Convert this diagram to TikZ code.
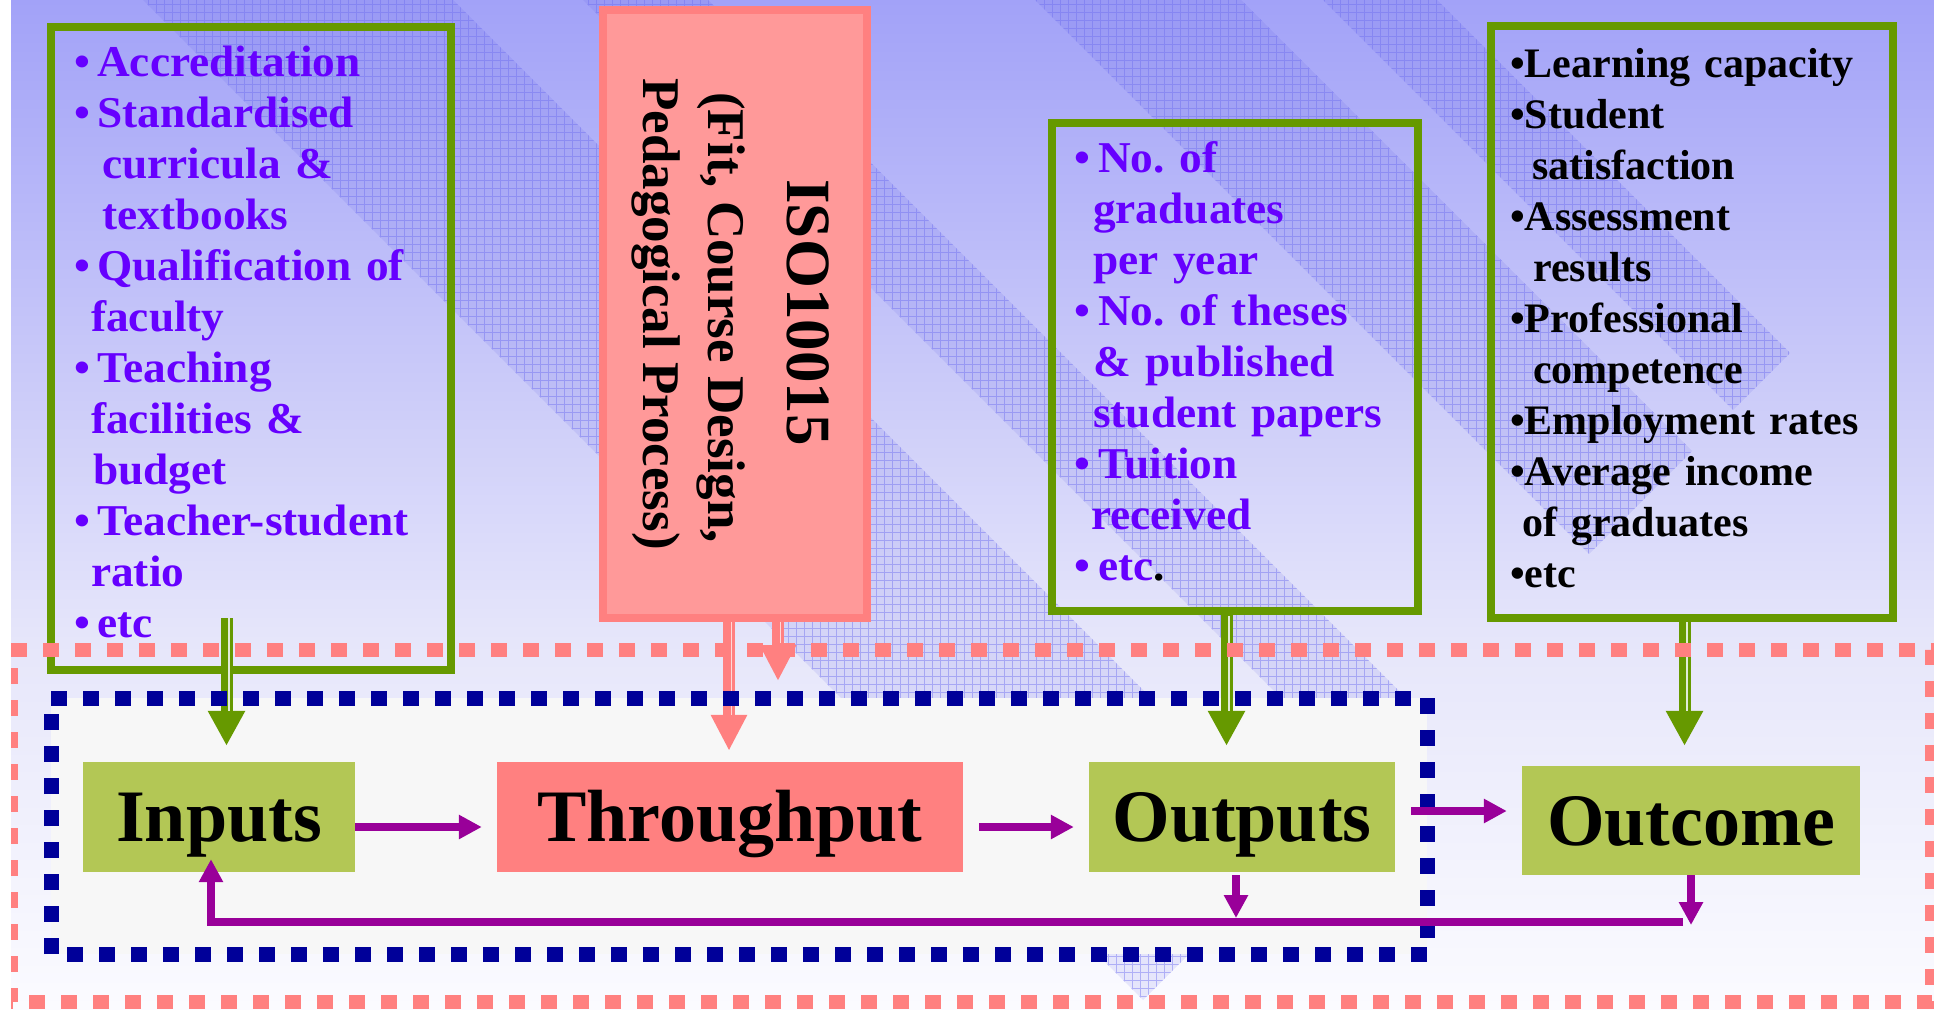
\documentclass[tikz,border=0pt]{standalone}
\usepackage{fontspec}
\setmainfont{Liberation Serif}
\newfontfamily\listfont{Liberation Serif}[FakeStretch=1.03]
\usetikzlibrary{arrows.meta,calc}

\definecolor{gborder}{RGB}{102,153,0}
\definecolor{gfill}{RGB}{179,199,85}
\definecolor{ptext}{RGB}{102,0,255}
\definecolor{parr}{RGB}{153,0,153}
\definecolor{navy}{RGB}{0,0,153}
\definecolor{pinkc}{RGB}{255,128,128}
\definecolor{isofill}{RGB}{255,153,153}
\definecolor{bgtop}{RGB}{162,162,248}
\definecolor{bgmid}{RGB}{230,230,250}
\definecolor{bgbot}{RGB}{251,251,255}
\definecolor{bandc}{RGB}{90,90,230}
\definecolor{gridc}{RGB}{110,110,240}
\definecolor{innerc}{RGB}{247,247,247}
\definecolor{ggap}{RGB}{225,235,215}
\definecolor{pgap}{RGB}{255,215,215}

\newcommand\bu{\makebox[23pt][l]{\textbullet}}
\newcommand\bum{\makebox[24pt][l]{\textbullet}}

\begin{document}
\frenchspacing
\begin{tikzpicture}[x=1pt,y=-1pt,
  greenbox/.style={draw=gborder,line width=8pt,inner sep=0pt},
  isoframe/.style={draw=pinkc,fill=isofill,line width=8pt,inner sep=0pt},
  mainbox/.style={inner sep=0pt,minimum height=110pt,font=\fontsize{74pt}{80pt}\selectfont\bfseries,text height=49pt,text depth=0pt},
  listtext/.style={anchor=base west,inner sep=0pt,text width=420pt,align=left},
  purplelist/.style={listtext,text=ptext,font=\listfont\fontsize{44pt}{51pt}\selectfont\bfseries\frenchspacing},
  blacklist/.style={listtext,text=black,font=\fontsize{42pt}{51pt}\selectfont\bfseries\frenchspacing},
  isotext/.style={rotate=-90,anchor=base,inner sep=0pt},
  gshaft/.style={draw=gborder,line width=12pt,-{Triangle[length=35pt,width=35pt]}},
  ggapline/.style={draw=ggap,line width=1.8pt},
  pshaft/.style={draw=pinkc,line width=12pt,-{Triangle[length=36pt,width=34pt]}},
  pgapline/.style={draw=pgap,line width=1.8pt},
  parrow/.style={draw=parr,line width=7.5pt,-{Triangle[length=23pt,width=23pt]}},
  dashframe/.style={line width=15pt,dash pattern=on 16pt off 16pt},
]
\useasboundingbox (0,0) rectangle (1934,1009);
% background
\fill[white] (0,0) rectangle (1934,1009);
\shade[top color=bgtop,bottom color=bgmid] (10.5,0) rectangle (1934,641);
\shade[top color=bgmid,bottom color=bgbot] (10.5,640) rectangle (1934,1009);
% diagonal grid bands
\begin{scope}
\clip (143,0) -- (453,0) -- (1298,845) -- (1143,1000) -- cycle
      (583,0) -- (708,0) -- (1425.5,717.5) -- (1363,780) -- cycle
      (1035,0) -- (1241,0) -- (1692,451) -- (1589,554) -- cycle
      (1323,0) -- (1437,0) -- (1790,353) -- (1733,410) -- cycle;
\fill[bandc,fill opacity=0.12] (0,0) rectangle (1934,1009);
\draw[gridc,draw opacity=0.45,line width=0.7pt]
  \foreach \i in {4,12,...,1934} { (\i,0) -- (\i,1009) }
  \foreach \j in {4,12,...,1009} { (0,\j) -- (1934,\j) };
\end{scope}
% inner area of the blue frame
\fill[innerc] (51,698) rectangle (1427,954);

% upper boxes
\node[greenbox,minimum width=400pt,minimum height=643pt] (inbox) at (251,348.5) {};
\node[greenbox,minimum width=366pt,minimum height=488pt] (midbox) at (1235,367) {};
\node[greenbox,minimum width=402pt,minimum height=592pt] (outbox) at (1692,322) {};
\node[isoframe,minimum width=264pt,minimum height=608pt] (iso) at (735,314) {};

\node[isotext,font=\fontsize{63pt}{70pt}\selectfont\bfseries] (iso1) at (787,312.5) {ISO10015};
\node[isotext,font=\fontsize{53pt}{60pt}\selectfont\bfseries] (iso2) at (708,317.5) {(Fit, Course Design,};
\node[isotext,font=\fontsize{53pt}{60pt}\selectfont\bfseries] (iso3) at (643,314) {Pedagogical Process)};

\node[purplelist] (inlist) at (74,76) {\bu Accreditation\\
\bu Standardised\\
\hspace*{28pt}curricula \&\\
\hspace*{28pt}textbooks\\
\bu Qualification of\\
\hspace*{17pt}faculty\\
\bu Teaching\\
\hspace*{17pt}facilities \&\\
\hspace*{19pt}budget\\
\bu Teacher-student\\
\hspace*{17pt}ratio\\
\bu etc};

\node[purplelist] (midlist) at (1074,172) {\bum No. of\\
\hspace*{19pt}graduates\\
\hspace*{19pt}per year\\
\bum No. of theses\\
\hspace*{19pt}\& published\\
\hspace*{19pt}student papers\\
\bum Tuition\\
\hspace*{17pt}received\\
\bum etc{\color{black}.}};

\node[blacklist] (outlist) at (1510,77.6) {\textbullet Learning capacity\\
\textbullet Student\\
\hspace*{22pt}satisfaction\\
\textbullet Assessment\\
\hspace*{23pt}results\\
\textbullet Professional\\
\hspace*{23pt}competence\\
\textbullet Employment rates\\
\textbullet Average income\\
\hspace*{12pt}of graduates\\
\textbullet etc};

% anchor points for the down arrows
\coordinate (ga) at (226.5,618);
\coordinate (gb) at (1226.5,0);
\coordinate (gc) at (1684.5,0);
\coordinate (pa) at (729,0);
\coordinate (pbT) at (778,681);

% main nodes
\node[mainbox,fill=gfill,minimum width=272pt] (inputs) at (219,817) {Inputs};
\node[mainbox,fill=pinkc,minimum width=466pt] (throughput) at (730,817) {Throughput};
\node[mainbox,fill=gfill,minimum width=306pt] (outputs) at (1242,817) {Outputs};
\node[mainbox,fill=gfill,minimum width=338pt,minimum height=109pt] (outcome) at (1691,820.5) {Outcome};

\draw[gshaft,shorten >=16pt] (ga) -- (ga |- inputs.north);
\draw[ggapline] (228.8,618) -- (228.8,711);
\draw[gshaft,shorten >=16pt] (midbox.south -| gb) -- (gb |- outputs.north);
\draw[ggapline] (1228.8,616) -- (1228.8,711);
\draw[gshaft,shorten >=20pt] (outbox.south -| gc) -- (gc |- outcome.north);
\draw[ggapline] (1686.8,622) -- (1686.8,711);
\draw[pshaft,shorten >=11pt] (iso.south -| pa) -- (pa |- throughput.north);
\draw[pgapline] (731.5,622) -- (731.5,715);
\draw[pshaft] (iso.south -| pbT) -- (pbT);
\draw[pgapline] (780.5,622) -- (780.5,645);

% frames
\draw[pinkc,dashframe,line width=14pt] (11,650) -- (1932,650) -- (1932,1002) -- (11,1002) -- cycle;
\draw[navy,dashframe] (51,698) -- (1427,698) -- (1427,954) -- (51,954) -- cycle;
\fill[white] (0,0) rectangle (10.5,1009);

% flow arrows
\draw[parrow,shorten >=15pt] ([yshift=-10pt]inputs.east) -- ([yshift=-10pt]throughput.west);
\draw[parrow,shorten <=16pt,shorten >=15pt] ([yshift=-10pt]throughput.east) -- ([yshift=-10pt]outputs.west);
\coordinate (oo) at ([yshift=6pt]outputs.east);
\draw[parrow,shorten <=16pt,shorten >=15pt] (oo) -- (oo -| outcome.west);

% feedback loop
\coordinate (fbR) at (1683,922);
\coordinate (fbL) at ([xshift=-8pt,yshift=13pt]inputs.south);
\draw[parrow,line width=8.5pt] (fbR) -| (fbL);
\coordinate (od) at ([xshift=-6pt,yshift=-3pt]outputs.south);
\draw[parrow,shorten >=4pt] (od) -- (od |- fbR);
\coordinate (ocT) at (1691,925);
\draw[parrow] (outcome.south) -- (ocT);
\end{tikzpicture}
\end{document}
